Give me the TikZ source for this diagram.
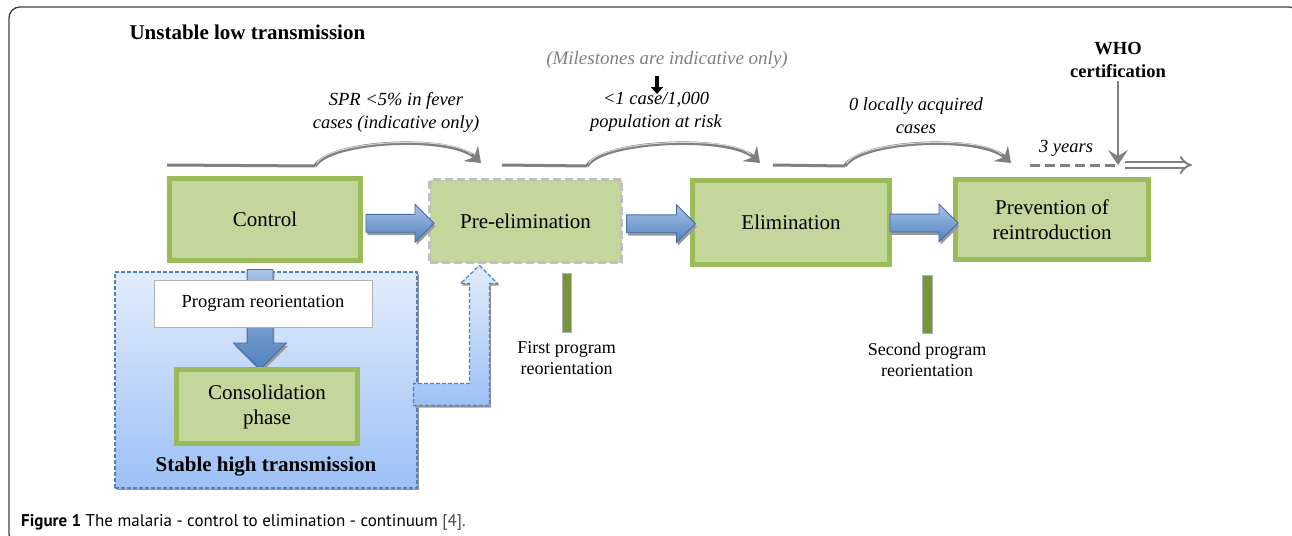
\documentclass[tikz,border=0pt]{standalone}
\usepackage{fontspec}
\setmainfont{Liberation Serif}
\newfontfamily\capfont{PT Sans}
\usepackage{tikz}
\usetikzlibrary{shapes.arrows, shadows, arrows.meta, calc, positioning}

\definecolor{phasefill}{HTML}{C3D69B}
\definecolor{phaseline}{HTML}{9BBB59}
\definecolor{arrowblue}{HTML}{4F81BD}
\definecolor{arrowlight}{HTML}{A9C2E8}
\definecolor{milegray}{HTML}{808080}
\definecolor{barolive}{HTML}{77933C}
\definecolor{stabletop}{HTML}{E2ECFB}
\definecolor{stablebot}{HTML}{9DC0F6}

\tikzset{
  phase/.style={draw=phaseline, line width=5pt, fill=phasefill, align=center,
    font=\fontsize{21}{25}\selectfont, inner sep=0pt},
  phasedash/.style={phase, draw=black!25, line width=3pt, dash pattern=on 8pt off 4pt},
  blockarr/.style={single arrow, draw=arrowblue!85!black, line width=0.8pt,
    top color=arrowlight, bottom color=arrowblue, single arrow head extend=10pt,
    inner sep=8.5pt,
    drop shadow={shadow xshift=1.5pt, shadow yshift=-3pt, fill=black!40, opacity=1}},
  stable/.style={draw=arrowblue, line width=1.2pt, dash pattern=on 4pt off 2pt,
    top color=stabletop, bottom color=stablebot,
    drop shadow={shadow xshift=1.5pt, shadow yshift=-2pt, fill=black!40, opacity=1}},
  mileline/.style={milegray, line width=3pt},
  milearc/.style={milegray, line width=3.5pt, -{Stealth[length=14pt, width=21pt, inset=5pt]},
    postaction={draw=white!70!gray, line width=1pt, -, shorten >=13pt, shorten <=3pt}},
  bar/.style={draw=black!30, line width=1pt, fill=barolive, minimum width=9pt,
    minimum height=58pt, inner sep=0pt},
  note/.style={font=\fontsize{18.5}{23}\selectfont\itshape, align=center},
  small/.style={font=\fontsize{18}{21}\selectfont, align=center},
}

\begin{document}
\begin{tikzpicture}[x=1pt, y=-1pt]
\useasboundingbox (0,0) rectangle (1292,535);
% outer frame and caption
\draw[black!75, line width=1.3pt, rounded corners=11pt] (1300,20) -- (1300,7) -- (9,7) -- (9,545) -- (40,545);
\node[anchor=base west, inner sep=0pt, font=\capfont\fontsize{17}{20}\selectfont] (caption) at (21,526)
  {\textbf{Figure 1} The malaria - control to elimination - continuum {\color{black!70}[4].}};

% stable high transmission region
\node[stable, minimum width=302pt, minimum height=216pt] (stable) at (266,380) {};
\node[font=\bfseries\fontsize{21}{25}\selectfont] (stabletxt) at (266,467) {Stable high transmission};
\node[blockarr, shape border rotate=270, minimum height=100pt, inner sep=12.5pt,
  single arrow head extend=13.5pt] (down) at (260,313) {};
\node[draw=black!30, line width=1pt, fill=white, minimum width=218pt, minimum height=47pt,
  font=\fontsize{18.5}{22}\selectfont] (reorient) at (263,303.5) {Program reorientation};
\node[phase, minimum width=181pt, minimum height=74pt] (consol) at (267,406.5) {Consolidation\\phase};

% phases
\node[phase, minimum width=191pt, minimum height=82pt] (ctrl) at (265,219.5) {Control};
\node[phasedash, minimum width=192pt, minimum height=83pt] (pre) at (525.5,221) {Pre-elimination};
\node[phase, minimum width=197pt, minimum height=84pt] (elim) at (791,222.5) {Elimination};
\node[phase, minimum width=193pt, minimum height=80pt] (prev) at (1052,219.5) {Prevention of\\reintroduction};

\node[blockarr, minimum height=68pt] (a1) at ($(ctrl.east)!.5!(pre.west)+(0,3)$) {};
\node[blockarr, minimum height=69pt] (a2) at ($(pre.east)!.5!(elim.west)+(0,2)$) {};
\node[blockarr, minimum height=68pt] (a3) at ($(elim.east)!.5!(prev.west)+(-3,2)$) {};

% bent arrow back to pre-elimination
\coordinate (uptip) at ($(pre.south west)+(51.5,1.5)$);
\draw[draw=arrowblue, line width=1.2pt, dash pattern=on 4pt off 2pt,
  top color=stabletop, bottom color=stablebot,
  drop shadow={shadow xshift=1.5pt, shadow yshift=-2pt, fill=black!40, opacity=1}]
  (uptip) -- ++(18,18) -- ++(-8,0) -- ++(0,122) -- ++(-76,0) -- ++(0,-22)
  -- ++(56,0) -- ++(0,-100) -- ++(-9,0) -- cycle;

% program reorientation markers
\node[bar, minimum height=59pt] (bar1) at (566.5,302.5) {};
\node[bar, minimum width=10pt] (bar2) at (927,304) {};
\node[small, below=6pt of bar1] (bar1txt) {First program\\reorientation};
\node[small, below=6pt of bar2] (bar2txt) {Second program\\reorientation};

% milestone line
\coordinate (m1a) at (167,165);
\coordinate (m1b) at (315,166);
\coordinate (m1c) at (481,163);
\coordinate (m2a) at (502,165);
\coordinate (m2b) at (587,166);
\coordinate (m2c) at (760,163);
\coordinate (m3a) at (773,165);
\coordinate (m3b) at (845,166);
\coordinate (m3c) at (1011,163);
\coordinate (d1) at (1030,165);
\coordinate (d2) at (1118,165);
\coordinate (f1) at (1125,165);
\coordinate (f2) at (1192,165);
\draw[mileline] (m1a) -- (m1b);
\draw[milearc] (m1b) .. controls +(15,-26) and +(-30,-28) .. (m1c);
\draw[mileline] (m2a) -- (m2b);
\draw[milearc] (m2b) .. controls +(15,-26) and +(-30,-28) .. (m2c);
\draw[mileline] (m3a) -- (m3b);
\draw[milearc] (m3b) .. controls +(15,-26) and +(-30,-28) .. (m3c);
\draw[mileline, dash pattern=on 10pt off 5pt] (d1) -- (d2);
\draw[milegray, line width=2pt, double=white, double distance=4pt, -Implies] (f1) -- (f2);

% milestone labels
\node[anchor=west, font=\bfseries\fontsize{21}{25}\selectfont] (unstable) at (126,32) {Unstable low transmission};
\node[note] (spr) at (396,112) {SPR <5\% in fever\\cases (indicative only)};
\node[note] (case) at (656,112) {<1 case/1,000\\population at risk};
\node[note] (zero) at (916,116) {0 locally acquired\\cases};
\node[note, font=\fontsize{19}{23}\selectfont\itshape, text=milegray] (indic) at (667,60) {(Milestones are indicative only)};
\node[note] (three) at (1066,148) {3 years};
\node[font=\bfseries\fontsize{18.5}{23}\selectfont, align=center] (who) at (1118,60) {WHO\\certification};
\draw[milegray, line width=2.5pt, -{Stealth[length=15pt, width=20pt, inset=6pt]}] (who.south) -- (who.south |- d2);
\coordinate (blk1) at (657,76);
\coordinate (blk2) at (657,94);
\draw[line width=4pt, -{Triangle[length=7pt, width=12pt]}] (blk1) -- (blk2);
\end{tikzpicture}
\end{document}
